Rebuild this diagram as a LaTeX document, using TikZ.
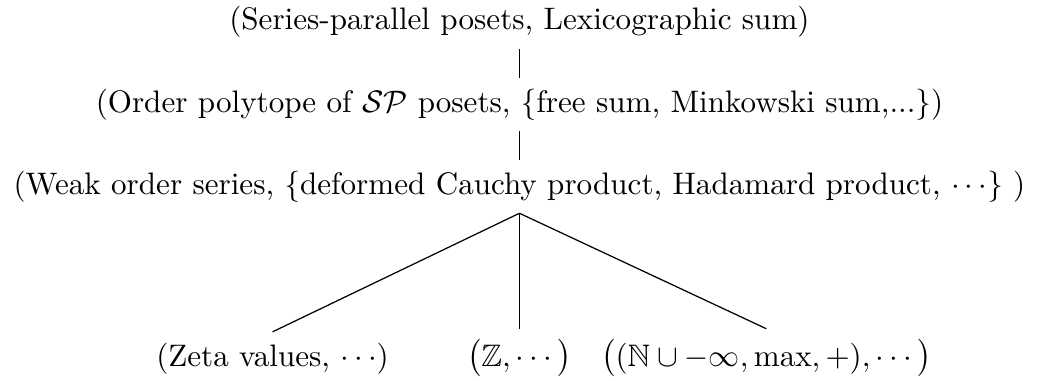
\documentclass[tikz,border=0pt]{standalone}
\usepackage{amssymb}
\tikzset{branch/.style={thin, black}}
\begin{document}
\begin{tikzpicture}
 \useasboundingbox (-5.87,-2.19) rectangle (5.86,2.11);
 \node (sp) at (0,1.86) {(Series-parallel posets, Lexicographic sum)};
 \node (op) at (0,0.93) {(Order polytope of $\mathcal{SP}$ posets, \{free sum, Minkowski sum,...\})};
 \node (wo) at (0,0) {(Weak order series, \{deformed Cauchy product, Hadamard product, $\cdots$\} )};
 \node (zeta) at (-2.79,-1.94) {(Zeta values, $\cdots$)};
 \node (zz) at (0,-1.94) {$\big(\mathbb{Z},\cdots\big)$};
 \node (nn) at (2.79,-1.94) {$\big((\mathbb{N}\cup -\infty, \max, +),\cdots\big)$};
 \draw [branch] (sp) -- (op);
 \draw [branch] (op) -- (wo);
 \draw [branch] (wo.south) -- (zeta.north);
 \draw [branch] (wo.south) -- (zz.north);
 \draw [branch] (wo.south) -- (nn.north);
\end{tikzpicture}
\end{document}
